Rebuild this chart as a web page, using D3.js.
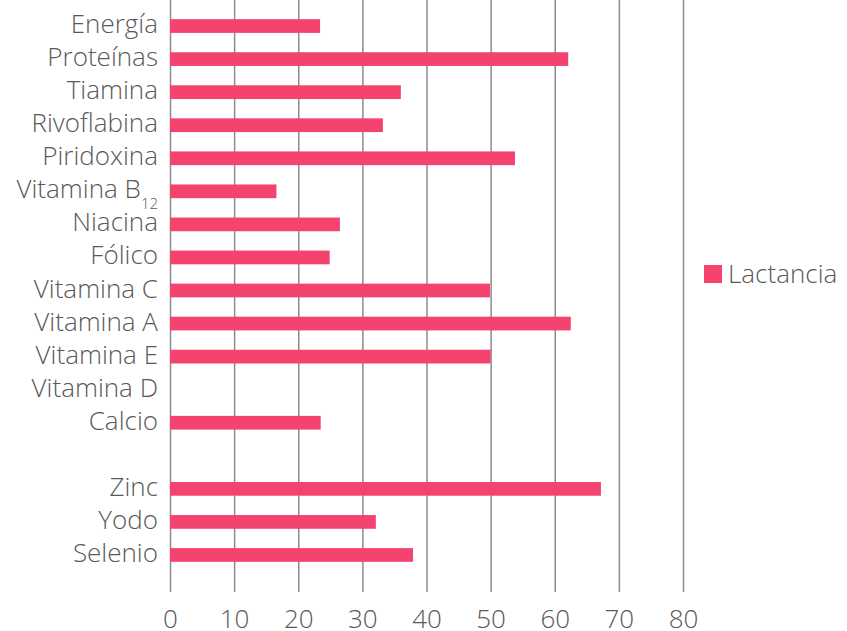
<!DOCTYPE html>
<html>
<head>
<meta charset="utf-8">
<script src="https://cdn.jsdelivr.net/npm/d3@7"></script>
<style>
  body { margin: 0; background: #fff; }
  text { font-family: "Open Sans", sans-serif; font-weight: 300; fill: #595959; }
</style>
</head>
<body>
<script>
// data
const categories = ["Energía", "Proteínas", "Tiamina", "Rivoflabina", "Piridoxina", "Vitamina B12",
  "Niacina", "Fólico", "Vitamina C", "Vitamina A", "Vitamina E", "Vitamina D", "Calcio", "",
  "Zinc", "Yodo", "Selenio"];
const lactancia = [23.4, 62.1, 36.0, 33.2, 53.8, 16.6, 26.5, 24.9, 49.9, 62.5, 50.0, null, 23.5, null,
  67.2, 32.1, 37.9];
const xTicks = [0, 10, 20, 30, 40, 50, 60, 70, 80];
const seriesName = "Lactancia";

const width = 847;
const height = 631;
const plotLeft = 170;
const plotRight = 683;
const gridTop = 0;
const gridBottom = 592;
const fontSize = 26;

const data = categories.map((c, i) => ({ cat: c, value: lactancia[i] }));

const x = d3.scaleLinear()
    .domain([0, 80])
    .range([plotLeft, plotRight]);

const y = d3.scaleBand()
    .domain(categories)
    .range([9.5, 571.5])
    .paddingInner(0.585)
    .paddingOuter(0.2925);

const svg = d3.select("body")
  .append("svg")
    .attr("width", width)
    .attr("height", height)
    .attr("viewBox", [0, 0, width, height]);

// X axis with gridlines
svg.append("g")
    .attr("transform", `translate(0,${gridBottom})`)
    .call(d3.axisBottom(x).tickValues(xTicks).tickSize(-(gridBottom - gridTop)).tickPadding(18))
    .call(g => g.select(".domain").remove())
    .call(g => g.selectAll(".tick line").attr("stroke", "#8c8c8c").attr("stroke-width", 1.5))
    .call(g => g.selectAll(".tick text")
        .attr("font-size", fontSize)
        .attr("font-family", null)
        .attr("fill", "#595959"));

// bars
svg.append("g")
    .attr("fill", "#f5436f")
  .selectAll("rect")
  .data(data.filter(d => d.value != null))
  .join("rect")
    .attr("x", x(0))
    .attr("y", d => y(d.cat))
    .attr("width", d => x(d.value) - x(0))
    .attr("height", y.bandwidth());

// Y axis labels
svg.append("g")
    .attr("transform", `translate(${plotLeft},0)`)
    .call(d3.axisLeft(y).tickSize(0).tickPadding(12))
    .call(g => g.select(".domain").remove())
    .call(g => g.selectAll(".tick text")
        .attr("font-size", fontSize)
        .attr("font-family", null)
        .attr("fill", "#595959")
        .attr("dy", "0.27em")
        .each(function(d) {
          if (d === "Vitamina B12") {
            const t = d3.select(this).text("");
            t.append("tspan").text("Vitamina B");
            t.append("tspan").attr("font-size", 15).attr("dy", "0.7em").text("12");
          }
        }));

// legend
const legend = svg.append("g").attr("transform", "translate(704,265)");
legend.append("rect")
    .attr("width", 18)
    .attr("height", 18)
    .attr("fill", "#f5436f");
legend.append("text")
    .attr("x", 24)
    .attr("y", 18)
    .attr("font-size", fontSize)
    .text(seriesName);
</script>
</body>
</html>
